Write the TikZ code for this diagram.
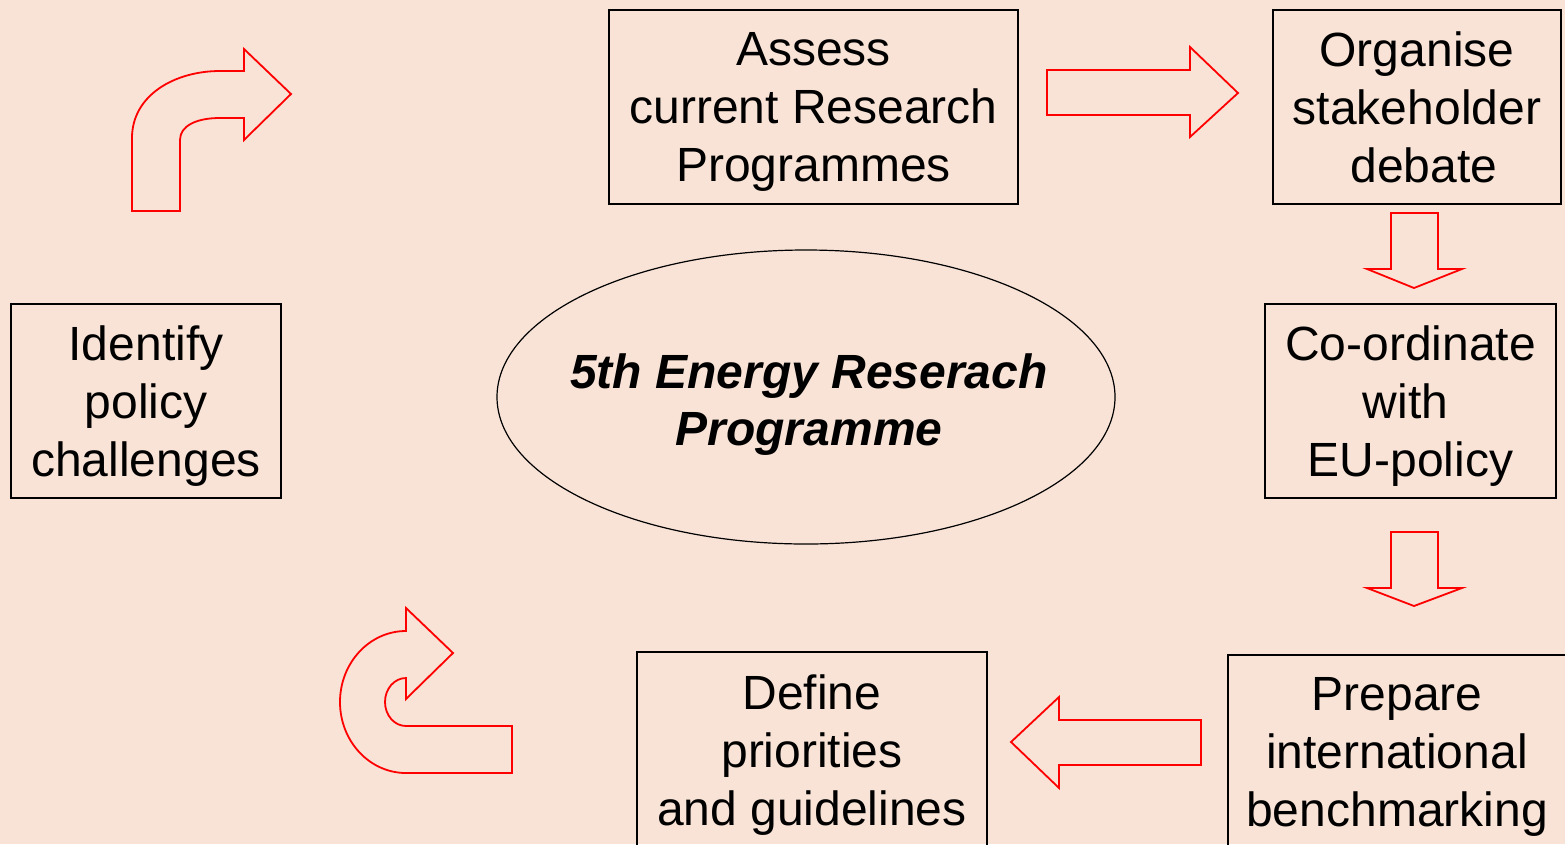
\documentclass[tikz,border=0pt]{standalone}
\usepackage{fontspec}
\setmainfont{Liberation Sans}
\definecolor{bg}{RGB}{248,227,214}
\begin{document}
\begin{tikzpicture}[x=1pt,y=-1pt,
  stepbox/.style={draw=black,line width=1.4pt,align=center,inner sep=0pt,
    text depth=0pt,font=\fontsize{48}{58}\selectfont},
  blockarrow/.style={draw=red,line width=1.8pt,line join=miter}]
\fill[bg] (0,0) rectangle (1565,844);
\useasboundingbox (0,0) rectangle (1565,844);
\clip (0,0) rectangle (1565,844);

% process steps
\node[stepbox,minimum width=409pt,minimum height=194pt] (assess) at (813.5,107)
  {Assess\\current Research\\Programmes};
\node[stepbox,minimum width=288pt,minimum height=194pt] (organise) at (1417,107)
  {Organise\\stakeholder\\\mbox{\kern14pt debate}};
\node[stepbox,minimum width=291pt,minimum height=194pt] (coord) at (1410.5,401)
  {Co-ordinate\\\mbox{with\kern10pt}\\EU-policy};
\node[stepbox,minimum width=338pt,minimum height=194pt] (prepare) at (1397,752)
  {Prepare\\international\\benchmarking};
\node[stepbox,minimum width=350pt,minimum height=196pt] (define) at (812,750)
  {Define\\priorities\\and guidelines};
\node[stepbox,minimum width=270pt,minimum height=194pt] (identify) at (146,401)
  {Identify\\policy\\challenges};

% programme in the centre
\node[align=center,inner sep=0pt,text depth=0pt,
  font=\fontsize{48}{57}\selectfont\bfseries\itshape]
  (prog) at (809,400) {5th Energy Reserach\\Programme};
\draw[black,line width=1.2pt] (806,397) ellipse [x radius=309, y radius=147];

% straight block arrows
\draw[blockarrow] (1047,70) -- (1190,70) -- (1190,47) -- (1238,93) -- (1190,137)
  -- (1190,115) -- (1047,115) -- cycle;
\draw[blockarrow] (1391,213) -- (1438,213) -- (1438,269) -- (1462,269) -- (1414,288)
  -- (1367,269) -- (1391,269) -- cycle;
\draw[blockarrow] (1391,532) -- (1438,532) -- (1438,588) -- (1462,588) -- (1414,606)
  -- (1367,588) -- (1391,588) -- cycle;
\draw[blockarrow] (1201,720) -- (1059,720) -- (1059,697) -- (1011,742) -- (1059,788)
  -- (1059,765) -- (1201,765) -- cycle;

% bent arrow, upper left
\draw[blockarrow] (132,211) -- (132,138) .. controls (132,95) and (175,71) .. (220,71)
  -- (244,71) -- (244,49) -- (291,94) -- (244,140) -- (244,118) -- (220,118)
  .. controls (196,118) and (180,126) .. (180,140) -- (180,211) -- cycle;

% u-turn arrow, lower left
\draw[blockarrow] (406,631) .. controls (369.5,631) and (340,662.8) .. (340,702)
  .. controls (340,741.2) and (369.5,773) .. (406,773) -- (512,773) -- (512,726)
  -- (406,726) .. controls (394.4,726) and (385,715.3) .. (385,702)
  .. controls (385,688.7) and (394.4,678) .. (406,678) -- (406,699) -- (453,653)
  -- (406,608) -- cycle;
\end{tikzpicture}
\end{document}
